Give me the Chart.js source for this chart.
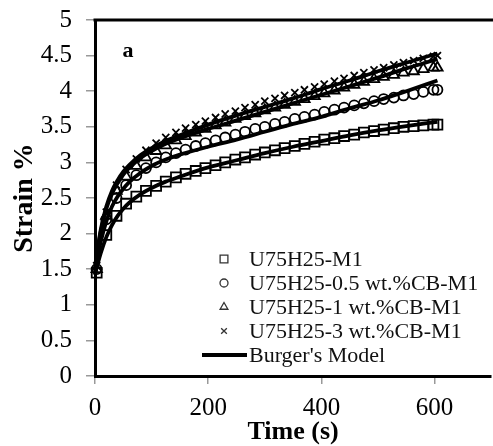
<!DOCTYPE html>
<html><head><meta charset="utf-8">
<script src="https://cdn.jsdelivr.net/npm/chart.js@4/dist/chart.umd.min.js"></script>
<style>
html,body{margin:0;padding:0;overflow:hidden;background:#fff;width:493px;height:446px}
#wrap{position:relative;width:500px;height:446px}
</style>
</head><body><div id="wrap"><canvas id="c" width="500" height="446"></canvas></div>
<script>
const seriesNames = ["U75H25-M1", "U75H25-0.5 wt.%CB-M1", "U75H25-1 wt.%CB-M1", "U75H25-3 wt.%CB-M1"];
const modelName = "Burger's Model";
const xTicks = [0, 200, 400, 600];
const yTicks = [0, 0.5, 1, 1.5, 2, 2.5, 3, 3.5, 4, 4.5, 5];

const times = [3,20,38,55,73,90,108,125,143,160,178,195,213,230,248,265,283,300,318,335,353,370,388,405,423,440,458,475,493,510,528,545,563,580,598,605];
const strainM1 = [1.45,1.98,2.25,2.42,2.52,2.60,2.67,2.73,2.79,2.84,2.88,2.92,2.96,3.00,3.04,3.07,3.11,3.14,3.17,3.20,3.23,3.26,3.29,3.32,3.34,3.37,3.39,3.42,3.44,3.46,3.48,3.50,3.51,3.52,3.53,3.53];
const strainCB05 = [1.5,2.2,2.5,2.68,2.82,2.92,3.0,3.07,3.13,3.18,3.23,3.27,3.31,3.35,3.39,3.43,3.47,3.50,3.54,3.57,3.61,3.64,3.67,3.71,3.74,3.77,3.80,3.83,3.86,3.89,3.91,3.94,3.96,3.99,4.02,4.02];
const strainCB1 = [1.5,2.25,2.6,2.8,2.95,3.07,3.16,3.24,3.31,3.37,3.42,3.47,3.52,3.56,3.61,3.65,3.69,3.73,3.77,3.81,3.85,3.89,3.93,3.97,4.01,4.05,4.09,4.13,4.17,4.20,4.23,4.26,4.28,4.31,4.33,4.33];
const strainCB3 = [1.55,2.3,2.68,2.9,3.05,3.17,3.27,3.35,3.42,3.48,3.53,3.58,3.63,3.68,3.72,3.77,3.81,3.86,3.90,3.94,3.98,4.02,4.06,4.10,4.14,4.18,4.22,4.26,4.30,4.33,4.37,4.40,4.43,4.46,4.49,4.50];

const modelTimes = [0,5,10,20,30,40,50,60,80,100,125,150,200,250,300,350,400,450,500,550,605];
const modelM1 = [1.42,1.58,1.72,1.95,2.12,2.25,2.35,2.43,2.55,2.64,2.73,2.80,2.93,3.03,3.13,3.22,3.30,3.38,3.45,3.51,3.57];
const modelCB05 = [1.45,1.68,1.88,2.17,2.38,2.52,2.63,2.72,2.85,2.95,3.04,3.11,3.22,3.32,3.43,3.54,3.64,3.76,3.87,4.00,4.15];
const modelCB1 = [1.5,1.78,2.02,2.35,2.56,2.71,2.83,2.92,3.06,3.16,3.26,3.34,3.47,3.59,3.71,3.83,3.95,4.07,4.19,4.32,4.45];
const modelCB3 = [1.5,1.8,2.05,2.38,2.6,2.75,2.87,2.96,3.1,3.2,3.3,3.38,3.53,3.66,3.78,3.90,4.03,4.15,4.28,4.40,4.53];

const FONT = '"Liberation Serif", "Times New Roman", serif';
const pts = (xs, ys) => xs.map((x, i) => ({x: x, y: ys[i]}));

const markerStyles = ['rect', 'circle', 'triangle', 'crossRot'];
const markerRadii = [7, 5, 6, 5];
const dataSeries = [strainM1, strainCB05, strainCB1, strainCB3];
const modelSeries = [modelM1, modelCB05, modelCB1, modelCB3];

const datasets = [];
modelSeries.forEach((m, i) => {
  datasets.push({
    label: modelName, data: pts(modelTimes, m), showLine: true,
    borderColor: '#000', borderWidth: 3.8, pointRadius: 0,
    cubicInterpolationMode: 'monotone', order: 0, clip: false
  });
});
dataSeries.forEach((s, i) => {
  datasets.push({
    label: seriesNames[i], data: pts(times, s), showLine: false,
    pointStyle: markerStyles[i], pointRadius: markerRadii[i],
    pointBorderColor: '#000', pointBackgroundColor: 'rgba(255,255,255,0)',
    pointBorderWidth: 1.8, order: 1, clip: false
  });
});

const extras = {
  id: 'extras',
  afterDraw(chart) {
    const ctx = chart.ctx, a = chart.chartArea;
    ctx.save();
    ctx.strokeStyle = '#000'; ctx.lineWidth = 3;
    ctx.beginPath(); ctx.moveTo(a.left - 1.5, a.top); ctx.lineTo(chart.width, a.top); ctx.stroke();
    ctx.fillStyle = '#000'; ctx.font = 'bold 22px ' + FONT;
    ctx.textAlign = 'center'; ctx.textBaseline = 'middle';
    ctx.fillText('a', 128, 51);
    const lx = 224, tx = 249, ly0 = 259, dy = 24;
    const lr = [5.5, 4, 4.5, 4];
    ctx.textAlign = 'left';
    ctx.font = '22px ' + FONT;
    seriesNames.forEach((n, i) => {
      const y = ly0 + i * dy;
      ctx.strokeStyle = '#333'; ctx.fillStyle = 'rgba(255,255,255,0)'; ctx.lineWidth = 1.3;
      Chart.helpers.drawPoint(ctx, {pointStyle: markerStyles[i], radius: lr[i], borderWidth: 1.3, rotation: 0}, lx, y);
      ctx.fillStyle = '#111';
      ctx.fillText(n, tx, y + 1);
    });
    const ym = ly0 + 4 * dy;
    ctx.strokeStyle = '#000'; ctx.lineWidth = 4;
    ctx.beginPath(); ctx.moveTo(202, ym); ctx.lineTo(247, ym); ctx.stroke();
    ctx.fillStyle = '#111';
    ctx.fillText(modelName, tx, ym + 1);
    ctx.restore();
  }
};

new Chart(document.getElementById('c'), {
  type: 'scatter',
  data: {datasets: datasets},
  options: {
    responsive: false, animation: false, devicePixelRatio: 1,
    layout: {padding: {top: 20, right: 5, left: 0, bottom: 0}},
    plugins: {legend: {display: false}, tooltip: {enabled: false}},
    scales: {
      x: {
        type: 'linear', min: 0, max: 700,
        afterBuildTicks: s => { s.ticks = xTicks.map(v => ({value: v})); },
        afterFit: s => { s.height = 70; s.paddingLeft = 0; s.paddingRight = 0; },
        ticks: {font: {family: FONT, size: 25}, color: '#000', padding: 9, maxRotation: 0, autoSkip: false,
                callback: v => String(v)},
        grid: {drawOnChartArea: false, drawTicks: true, tickLength: 8, color: '#999', lineWidth: 1.5},
        border: {display: true, color: '#000', width: 3},
        title: {display: true, text: 'Time (s)', color: '#000', font: {family: FONT, size: 26, weight: 'bold', lineHeight: 1}, padding: {top: 0, bottom: 1}}
      },
      y: {
        type: 'linear', min: 0, max: 5,
        afterBuildTicks: s => { s.ticks = yTicks.map(v => ({value: v})); },
        afterFit: s => { s.width = 95; s.paddingTop = 0; s.paddingBottom = 0; },
        ticks: {font: {family: FONT, size: 25}, color: '#000', padding: 14, autoSkip: false,
                callback: v => String(v)},
        grid: {drawOnChartArea: false, drawTicks: true, tickLength: 9, color: '#999', lineWidth: 1.5},
        border: {display: true, color: '#000', width: 3},
        title: {display: true, text: 'Strain %', color: '#000', font: {family: FONT, size: 28, weight: 'bold', lineHeight: 1}, padding: {top: 11, bottom: 0}}
      }
    }
  },
  plugins: [extras]
});
</script>
</body></html>
